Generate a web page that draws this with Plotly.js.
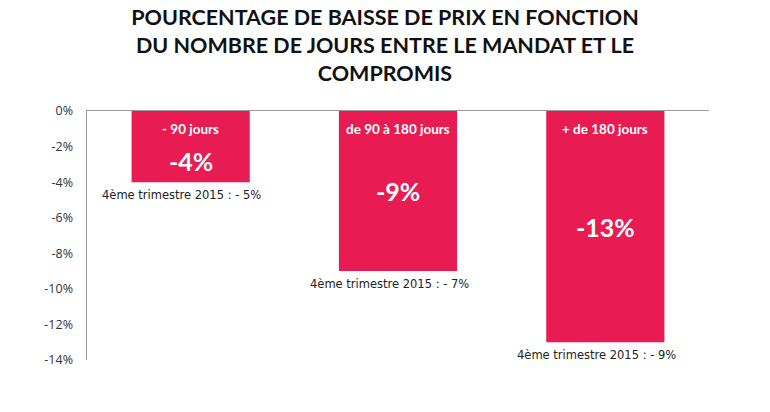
<!DOCTYPE html>
<html>
<head>
<meta charset="utf-8">
<script src="https://cdn.plot.ly/plotly-3.0.1.min.js"></script>
<style>html,body{margin:0;padding:0;background:#fff;}#chart{width:770px;height:412px;}</style>
</head>
<body>
<div id="chart"></div>
<script>
const categories = ["- 90 jours", "de 90 à 180 jours", "+ de 180 jours"];
const values = [-4, -9, -13];
const valueLabels = ["-4%", "-9%", "-13%"];
const previousLabels = ["4ème trimestre 2015 : - 5%", "4ème trimestre 2015 : - 7%", "4ème trimestre 2015 : - 9%"];
const tickValues = [0, -2, -4, -6, -8, -10, -12, -14];
const tickLabels = ["0%", "-2%", "-4%", "-6%", "-8%", "-10%", "-12%", "-14%"];

const barColor = "#E81B52";
const font = "Lato, 'Open Sans', sans-serif";

const annotations = [];
categories.forEach((c, i) => {
  annotations.push({x: c, y: 0, yref: 'y', xref: 'x', text: '<b>' + c + '</b>', showarrow: false,
    yanchor: 'top', yshift: -8, font: {family: font, size: 13.5, color: '#fff'}});
  annotations.push({x: c, y: Math.min(values[i] / 2, -2.8), text: '<b>' + valueLabels[i] + '</b>', showarrow: false,
    yanchor: 'middle', font: {family: font, size: 25, color: '#fff'}});
  annotations.push({x: c, y: values[i], text: previousLabels[i], showarrow: false,
    yanchor: 'top', yshift: -4, xshift: -9, font: {family: "'DejaVu Sans', sans-serif", size: 11.5, color: '#222'}});
});

const data = [{
  type: 'bar', x: categories, y: values, marker: {color: barColor}, hoverinfo: 'none'
}];

const layout = {
  width: 770, height: 412,
  margin: {l: 87, r: 61, t: 111, b: 52},
  paper_bgcolor: '#fff', plot_bgcolor: '#fff',
  bargap: 0.43,
  showlegend: false,
  title: {text: '<b>POURCENTAGE DE BAISSE DE PRIX EN FONCTION<br>DU NOMBRE DE JOURS ENTRE LE MANDAT ET LE<br>COMPROMIS</b>',
    x: 0.5, xanchor: 'center', y: 0.94, yanchor: 'middle',
    font: {family: font, size: 21.5, color: '#111'}},
  xaxis: {type: 'category', side: 'top', showline: true, linecolor: '#9a9a9a', linewidth: 1.5,
    showticklabels: false, ticks: '', showgrid: false, zeroline: false, fixedrange: true},
  yaxis: {range: [-14, 0], tickvals: tickValues, ticktext: tickLabels, showline: true, linecolor: '#9a9a9a', linewidth: 1.5,
    showgrid: false, zeroline: false, ticks: '', ticklabelstandoff: 10,
    tickfont: {family: "'Open Sans', sans-serif", size: 12.5, color: '#333'}, fixedrange: true},
  annotations: annotations
};

Plotly.newPlot('chart', data, layout, {displayModeBar: false, staticPlot: true});
</script>
</body>
</html>
